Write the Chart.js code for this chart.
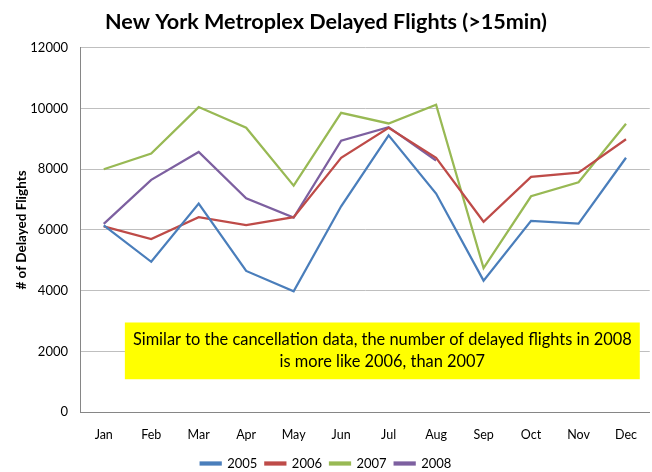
<!DOCTYPE html>
<html>
<head>
<meta charset="utf-8">
<script src="https://cdn.jsdelivr.net/npm/chart.js@4.4.1/dist/chart.umd.min.js"></script>
<style>
html,body{margin:0;padding:0;background:#fff;}
#wrap{width:652px;height:472px;position:relative;}
</style>
</head>
<body>
<div id="wrap"><canvas id="c" width="652" height="472"></canvas></div>
<script>
const months = ['Jan','Feb','Mar','Apr','May','Jun','Jul','Aug','Sep','Oct','Nov','Dec'];
const yTicks = [0, 2000, 4000, 6000, 8000, 10000, 12000];
const delays2005 = [6150, 4950, 6870, 4650, 3980, 6780, 9120, 7200, 4330, 6300, 6210, 8380];
const delays2006 = [6120, 5700, 6420, 6160, 6420, 8380, 9370, 8380, 6270, 7750, 7890, 8990];
const delays2007 = [8000, 8520, 10050, 9370, 7460, 9860, 9510, 10130, 4740, 7110, 7570, 9500];
const delays2008 = [6200, 7650, 8570, 7040, 6410, 8940, 9390, 8290, null, null, null, null];
const seriesNames = ['2005', '2006', '2007', '2008'];
const seriesColors = ['#4a7ebb', '#be4b48', '#98b954', '#7d60a0'];
const noteLines = ['Similar to the cancellation data, the number of delayed flights in 2008', 'is more like 2006, than 2007'];
// note box placement in data units (category index / value)
const noteBox = {x0: 0.445, x1: 11.29, y0: 2950, y1: 1080};

const FONT = 'Lato, "Open Sans", sans-serif';

const notePlugin = {
  id: 'note',
  afterDatasetsDraw(chart) {
    const {ctx, scales: {x, y}} = chart;
    const l = x.getPixelForValue(noteBox.x0), r = x.getPixelForValue(noteBox.x1);
    const t = y.getPixelForValue(noteBox.y0), b = y.getPixelForValue(noteBox.y1);
    ctx.save();
    ctx.fillStyle = '#ffff00';
    ctx.fillRect(l, t, r - l, b - t);
    ctx.fillStyle = '#000';
    ctx.font = '16.4px ' + FONT;
    ctx.textAlign = 'center';
    ctx.textBaseline = 'middle';
    const cx = (l + r) / 2, cy = (t + b) / 2;
    ctx.fillText(noteLines[0], cx, cy - 11);
    ctx.fillText(noteLines[1], cx, cy + 11);
    ctx.restore();
  }
};

const data = {
  labels: months,
  datasets: [delays2005, delays2006, delays2007, delays2008].map((d, i) => ({
    label: seriesNames[i],
    data: d,
    borderColor: seriesColors[i],
    backgroundColor: seriesColors[i],
    borderWidth: 2.25,
    pointRadius: 0,
    pointHoverRadius: 0,
    tension: 0,
    fill: false,
    spanGaps: false
  }))
};

new Chart(document.getElementById('c'), {
  type: 'line',
  data,
  plugins: [notePlugin],
  options: {
    responsive: false,
    animation: false,
    devicePixelRatio: 1,
    layout: {padding: {left: 0, right: 0, top: 0, bottom: -8}},
    plugins: {
      title: {
        display: true,
        text: 'New York Metroplex Delayed Flights (>15min)',
        color: '#000',
        font: {family: FONT, size: 21.6, weight: 'bold'},
        padding: {top: 9, bottom: 13}
      },
      legend: {
        position: 'bottom',
        labels: {
          color: '#000',
          font: {family: FONT, size: 13},
          boxWidth: 20,
          boxHeight: 2,
          padding: 8
        }
      },
      tooltip: {enabled: false}
    },
    scales: {
      x: {
        offset: true,
        grid: {display: false, drawTicks: false},
        border: {display: true, color: '#868686', width: 1},
        ticks: {color: '#000', font: {family: FONT, size: 12.5}, padding: 15, maxRotation: 0},
        afterFit(s) { s.height = 37; }
      },
      y: {
        min: 0,
        max: 12000,
        afterBuildTicks(s) { s.ticks = yTicks.map(v => ({value: v})); },
        grid: {color: '#bfbfbf', drawTicks: false},
        border: {display: true, color: '#868686', width: 1},
        ticks: {color: '#000', font: {family: FONT, size: 13}, padding: 12, callback: v => String(v)},
        title: {
          display: true,
          text: '# of Delayed Flights',
          color: '#000',
          font: {family: FONT, size: 13.5, weight: 'bold'},
          padding: {top: 14, bottom: 0}
        },
        afterFit(s) { s.width = 80; }
      }
    }
  }
});
</script>
</body>
</html>
